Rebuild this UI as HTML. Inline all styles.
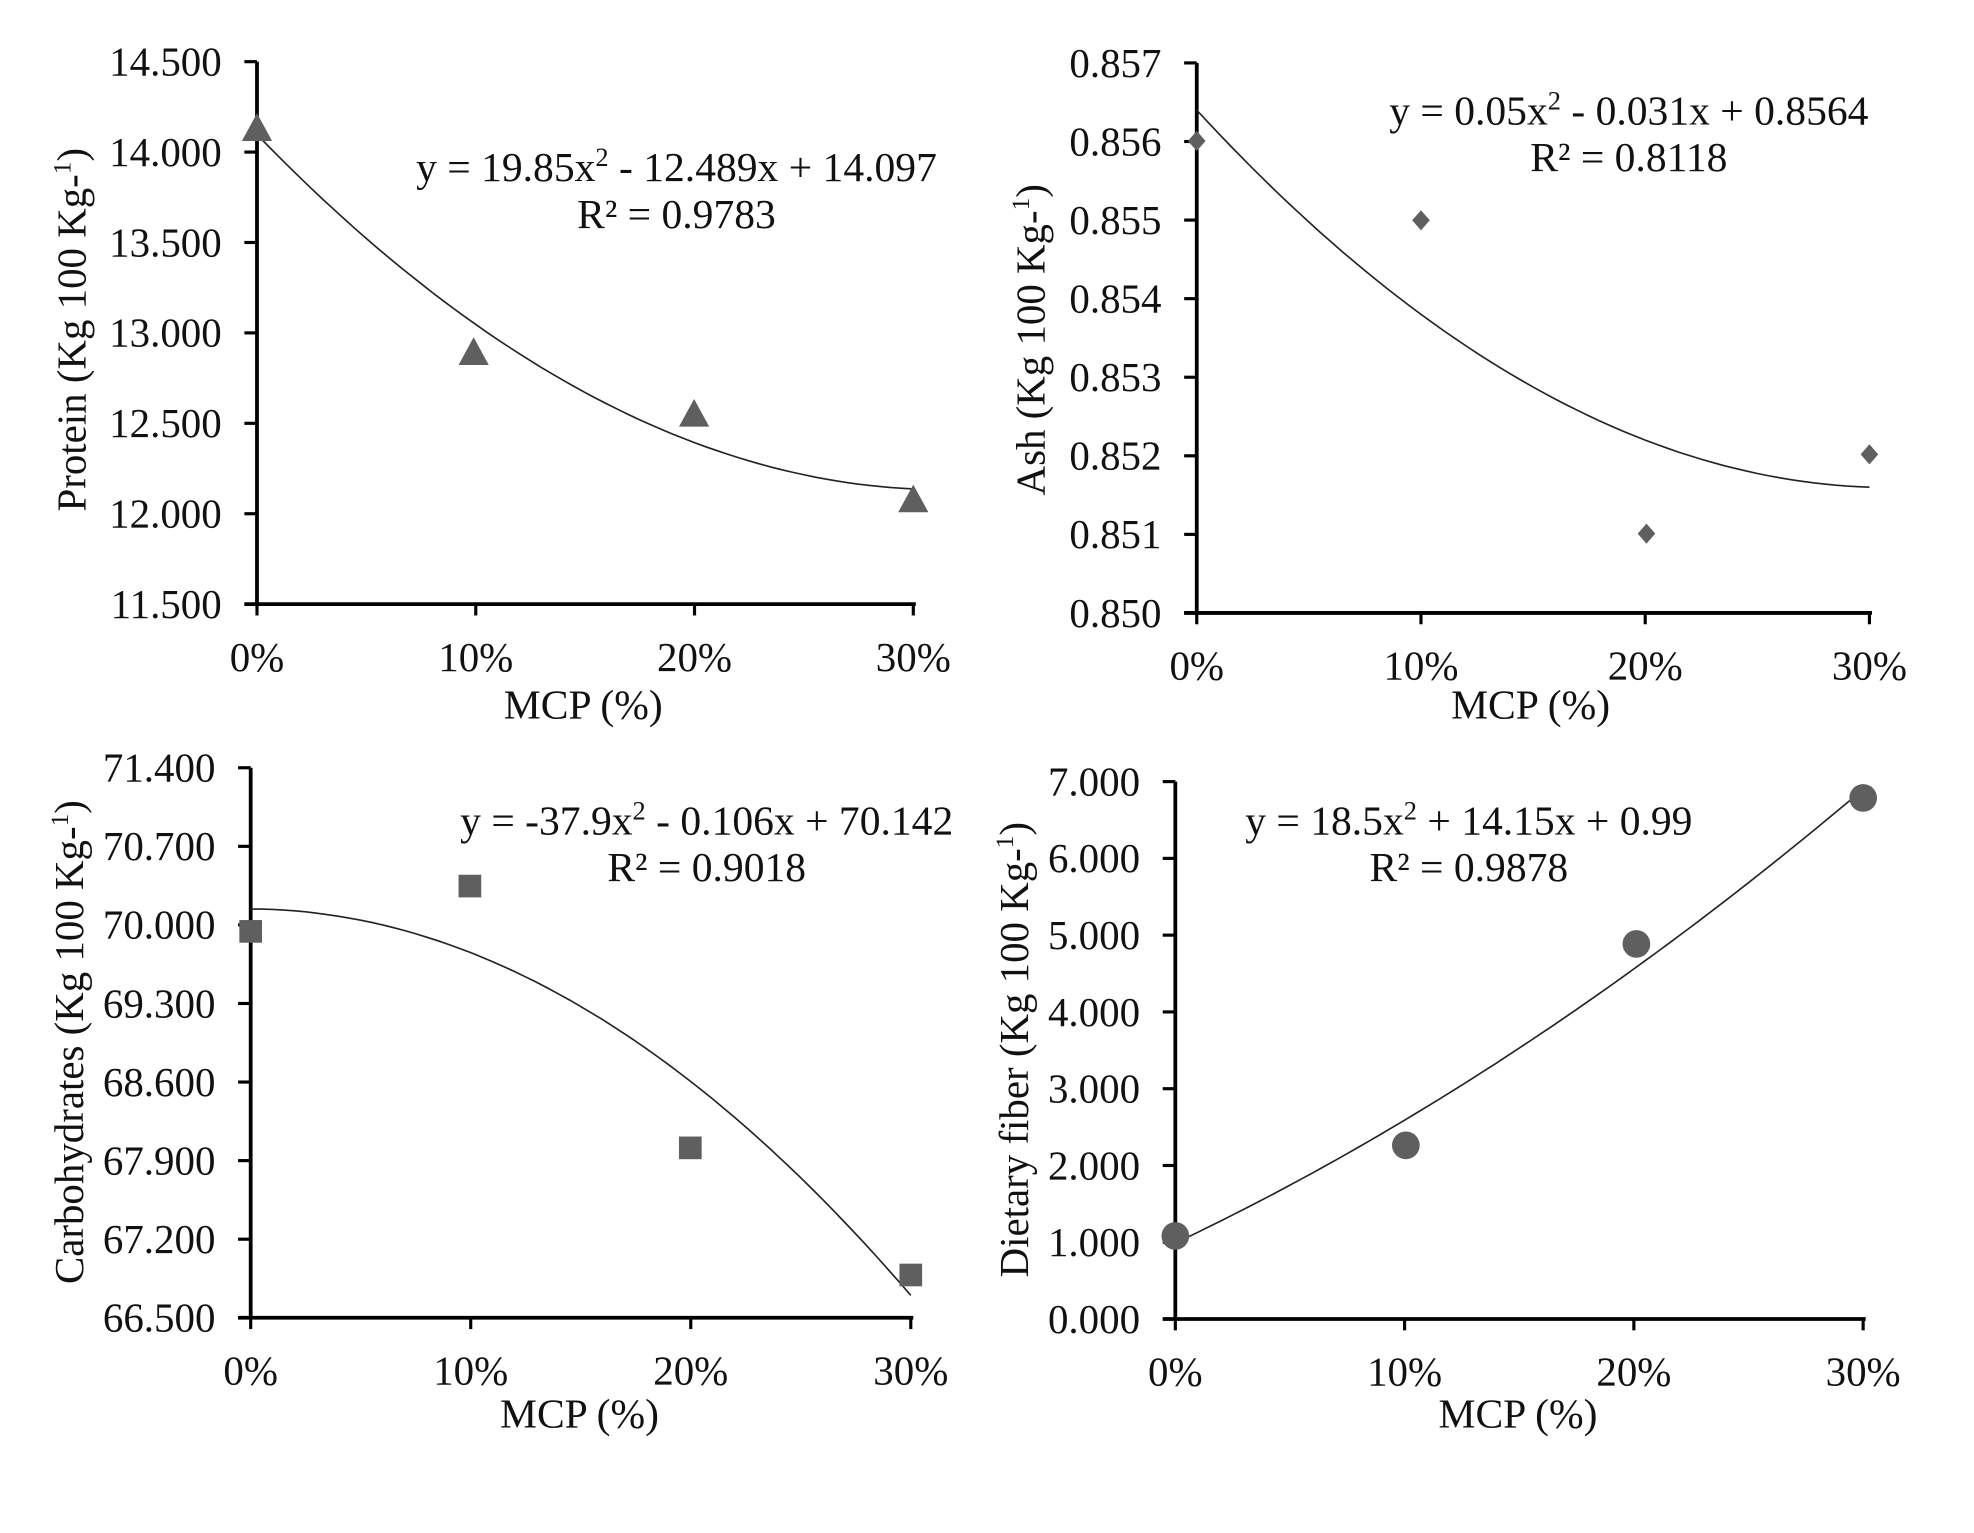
<!DOCTYPE html>
<html><head><meta charset="utf-8"><style>
html,body{margin:0;padding:0;background:#fff}
svg{display:block}
text{font-family:"Liberation Serif",serif;fill:#111}
</style></head><body>
<svg id="s" width="1974" height="1533" viewBox="0 0 1567 1218" preserveAspectRatio="none" xmlns="http://www.w3.org/2000/svg"></svg>
<script>
const s=document.getElementById('s');let h='';
function plot(o){
 const {ax,x30,yTop,yBot,vmin,vmax,step,dec,ticks,f,pts,shape,eq,r2,ex,ey,mx,my,lx,ly,label}=o;
 const X=p=>ax+(x30-ax)*p/0.3, Y=v=>yBot-(yBot-yTop)*(v-vmin)/(vmax-vmin);
 h+=`<line x1="${ax}" y1="${yTop}" x2="${ax}" y2="${yBot}" stroke="#000" stroke-width="3"/>`;
 h+=`<line x1="${ax-10}" y1="${yBot}" x2="${x30+2}" y2="${yBot}" stroke="#000" stroke-width="3"/>`;
 for(let i=0;i<=ticks;i++){const v=vmin+i*step,y=Y(v);
  h+=`<line x1="${ax-10}" y1="${y}" x2="${ax}" y2="${y}" stroke="#000" stroke-width="2.5"/>`;
  h+=`<text x="${ax-28}" y="${y+11}" font-size="32.5" text-anchor="end">${v.toFixed(dec)}</text>`;}
 for(let i=0;i<4;i++){const x=X(i*0.1);
  h+=`<line x1="${x}" y1="${yBot}" x2="${x}" y2="${yBot+9}" stroke="#000" stroke-width="2.5"/>`;
  h+=`<text x="${x}" y="${yBot+53}" font-size="32.5" text-anchor="middle">${i*10}%</text>`;}
 h+=`<text x="${mx}" y="${my}" font-size="33" text-anchor="middle">MCP (%)</text>`;
 h+=`<text transform="translate(${lx},${ly}) rotate(-90)" font-size="32.5" text-anchor="middle">${label}</text>`;
 let d='';for(let i=0;i<=60;i++){const p=0.3*i/60;d+=(i?'L':'M')+X(p).toFixed(1)+','+Y(f(p)).toFixed(1);}
 h+=`<path d="${d}" fill="none" stroke="#222" stroke-width="1.3"/>`;
 pts.forEach(([px,py])=>{
  if(shape=='tri')h+=`<polygon points="${px},${py-13} ${px-12},${py+9} ${px+12},${py+9}" fill="#5f5f5f"/>`;
  if(shape=='dia')h+=`<polygon points="${px},${py-8} ${px+7},${py} ${px},${py+8} ${px-7},${py}" fill="#5f5f5f"/>`;
  if(shape=='sq')h+=`<rect x="${px-9}" y="${py-9}" width="18" height="18" fill="#5f5f5f"/>`;
  if(shape=='cir')h+=`<circle cx="${px}" cy="${py}" r="11" fill="#5f5f5f"/>`;});
 h+=`<text x="${ex}" y="${ey}" font-size="33" text-anchor="middle">${eq}</text>`;
 h+=`<text x="${ex}" y="${ey+37}" font-size="33" text-anchor="middle">${r2}</text>`;
}
const lab=t=>`${t} (Kg 100 Kg-<tspan font-size="20" dy="-12">1</tspan><tspan dy="12">)</tspan>`;
const sup='<tspan font-size="21" dy="-12">2</tspan><tspan dy="12">';
plot({ax:204,x30:725,yTop:49,yBot:480,vmin:11.5,vmax:14.5,step:0.5,dec:3,ticks:6,f:p=>19.85*p*p-12.489*p+14.097,
 pts:[[204,103],[376,281],[551,330],[725,398]],shape:'tri',eq:'y = 19.85x'+sup+' - 12.489x + 14.097</tspan>',r2:'R² = 0.9783',ex:537,ey:144,mx:463,my:571,lx:68,ly:262,label:lab('Protein')});
plot({ax:950,x30:1484,yTop:50,yBot:487,vmin:0.850,vmax:0.857,step:0.001,dec:3,ticks:7,f:p=>0.05*p*p-0.031*p+0.8564,
 pts:[[950,112],[1128,175],[1307,424],[1484,361]],shape:'dia',eq:'y = 0.05x'+sup+' - 0.031x + 0.8564</tspan>',r2:'R² = 0.8118',ex:1293,ey:99,mx:1215,my:571,lx:829,ly:270,label:lab('Ash')});
plot({ax:199,x30:723,yTop:610,yBot:1047,vmin:66.5,vmax:71.4,step:0.7,dec:3,ticks:7,f:p=>-37.9*p*p-0.106*p+70.142,
 pts:[[199,740],[373,704],[548,912],[723,1013]],shape:'sq',eq:'y = -37.9x'+sup+' - 0.106x + 70.142</tspan>',r2:'R² = 0.9018',ex:561,ey:663,mx:460,my:1134,lx:66,ly:828,label:lab('Carbohydrates')});
plot({ax:933,x30:1479,yTop:621,yBot:1048,vmin:0,vmax:7,step:1,dec:3,ticks:7,f:p=>18.5*p*p+14.15*p+0.99,
 pts:[[933,982],[1116,910],[1299,750],[1479,634]],shape:'cir',eq:'y = 18.5x'+sup+' + 14.15x + 0.99</tspan>',r2:'R² = 0.9878',ex:1166,ey:663,mx:1205,my:1134,lx:816,ly:834,label:lab('Dietary fiber')});
s.innerHTML=h;
</script>
</body></html>
